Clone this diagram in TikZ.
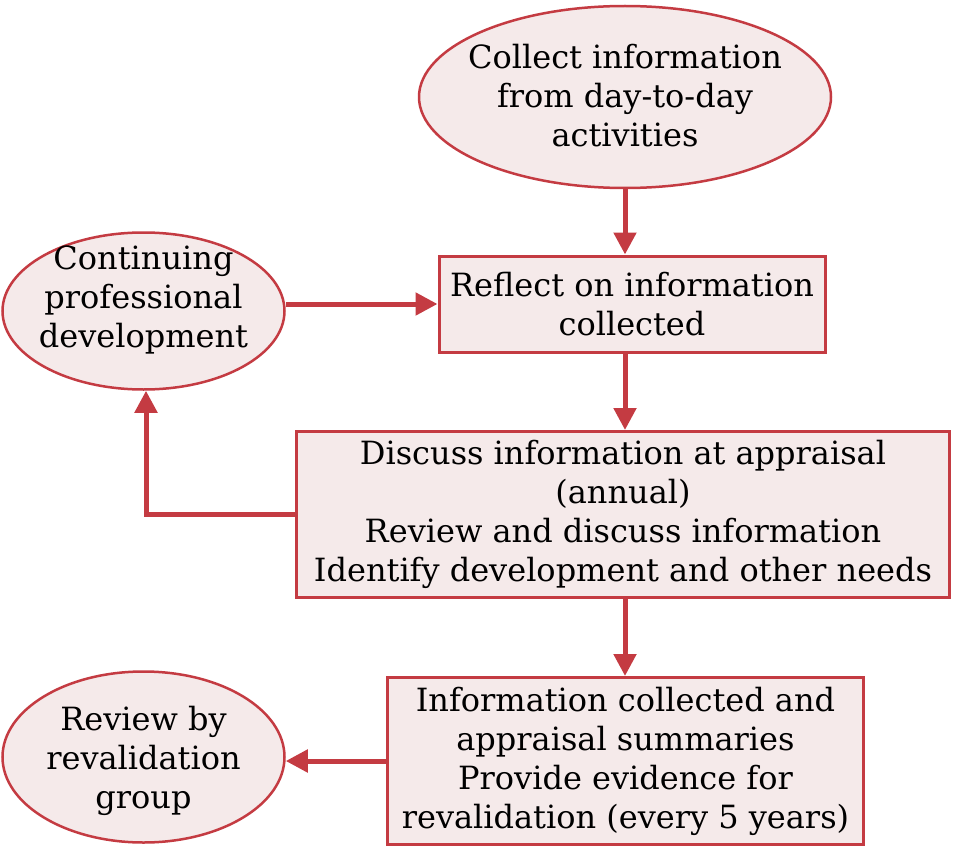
\documentclass[tikz,border=0pt]{standalone}
\usepackage{fontspec}
\setmainfont{DejaVu Serif}
\usetikzlibrary{arrows.meta,shapes.geometric,calc}
\definecolor{edge}{HTML}{C43B42}
\definecolor{pinkfill}{HTML}{F5EAEA}
\tikzset{
  txt/.style={align=center,font=\fontsize{32}{39}\selectfont,text=black,inner sep=0pt},
  boxnode/.style={txt,draw=edge,fill=pinkfill,line width=3pt,rectangle},
  ellnode/.style={txt,draw=edge,fill=pinkfill,line width=2.5pt,ellipse,inner sep=-25pt},
  conn/.style={draw=edge,line width=5pt,-{Triangle[length=22pt,width=22pt]}}
}
\begin{document}
\begin{tikzpicture}[x=1pt,y=-1pt]
\useasboundingbox (0,0) rectangle (953,848);
\node[ellnode,minimum width=412pt,minimum height=182pt] (top) at (625,97) {};
\node[txt] (toptext) at (625,95.5) {Collect information\\from day-to-day\\activities};
\node[boxnode,minimum width=386pt,minimum height=96pt] (reflect) at (632,304) {Reflect on information\\collected};
\node[ellnode,minimum width=282pt,minimum height=157pt] (cpd) at (143.5,311) {};
\node[txt] (cpdtext) at (143.5,300) {Continuing\\professional\\development};
\node[boxnode,minimum width=653pt,minimum height=166pt] (discuss) at (623,514.5) {Discuss information at appraisal\\(annual)\\Review and discuss information\\Identify development and other needs};
\node[boxnode,minimum width=476pt,minimum height=167pt] (info) at (625.5,761) {Information collected and\\appraisal summaries\\Provide evidence for\\revalidation (every 5 years)};
\node[ellnode,minimum width=282pt,minimum height=171pt] (review) at (143.5,757) {};
\node[txt] (reviewtext) at (143.5,761) {Review by\\revalidation\\group};
\draw[conn] (top.south) -- (top.south |- reflect.north);
\draw[conn] (reflect.west -| cpd.east) -- (reflect.west);
\draw[conn] (top.south |- reflect.south) -- (top.south |- discuss.north);
\draw[conn] (discuss.west) -- ($(discuss.west -| cpd.south)+(2.5,0)$) -- ($(cpd.south)+(2.5,0)$);
\draw[conn] (top.south |- discuss.south) -- (top.south |- info.north);
\draw[conn] (info.west) -- (info.west -| review.east);
\end{tikzpicture}
\end{document}
